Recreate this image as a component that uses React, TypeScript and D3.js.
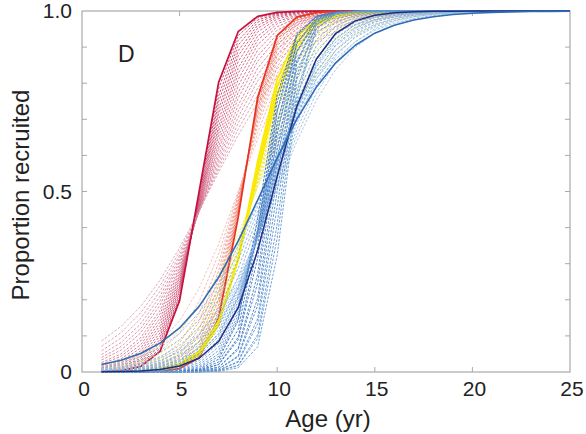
import React from "react";
import * as d3 from "d3";

// ---------- data ----------
const AGES = [1, 2, 3, 4, 5, 6, 7, 8, 9, 10, 11, 12, 13, 14, 15, 16, 17, 18, 19, 20, 21, 22, 23, 24, 25];
const X_TICKS = [0, 5, 10, 15, 20, 25];
const Y_TICKS = [0, 0.5, 1];
const Y_TICK_LABELS = ["0", "0.5", "1.0"];
const Y_MINOR = [0.1, 0.2, 0.3, 0.4, 0.5, 0.6, 0.7, 0.8, 0.9];

// crimson group (age at 50% selection, slope)
const crimsonSolidA50 = 6.0;
const crimsonSolidSlope = 1.4;
const crimsonFanA50 = [6.02, 6.05, 6.07, 6.1, 6.12, 6.15, 6.18, 6.2, 6.23, 6.26, 6.29, 6.32, 6.35, 6.38, 6.41, 6.44, 6.47, 6.5];
const crimsonFanSlope = [1.32, 1.24, 1.17, 1.1, 1.04, 0.98, 0.92, 0.87, 0.82, 0.77, 0.72, 0.68, 0.63, 0.59, 0.55, 0.51, 0.47, 0.43];

// red group
const redSolidA50 = 8.2;
const redSolidSlope = 1.45;
const redFanA50 = [8.18, 8.16, 8.15, 8.13, 8.11, 8.09, 8.07, 8.05, 8.03, 8.0];
const redFanSlope = [1.36, 1.28, 1.2, 1.12, 1.04, 0.96, 0.88, 0.8, 0.7, 0.6];

// yellow group
const yellowSolidA50 = [8.7, 8.75, 8.8];
const yellowSolidSlope = [1.12, 1.06, 1.0];
const yellowFanA50 = [8.82, 8.84, 8.86, 8.88, 8.9, 8.92];
const yellowFanSlope = [0.92, 0.84, 0.76, 0.68, 0.6, 0.52];

// blue group
const blueFanA50 = [9.3, 9.35, 9.4, 9.45, 9.5, 9.55, 9.6, 9.65, 9.7, 9.75, 9.8, 9.85, 9.9, 9.95];
const blueFanSlope = [1.35, 1.25, 1.15, 1.06, 0.98, 0.91, 0.85, 0.8, 0.75, 0.7, 0.66, 0.62, 0.58, 0.54];
const blueOuterFanA50 = [9.25, 9.3, 9.38, 9.45, 9.52, 9.6, 9.68];
const blueOuterFanSlope = [0.5, 0.54, 0.58, 0.63, 0.68, 0.74, 0.8];
const blueSteepA50 = [9.2, 9.3, 9.4, 9.5, 9.6, 9.7, 9.8, 9.9, 10.0, 10.1, 10.2, 10.3, 10.4];
const blueSteepSlope = [1.5, 1.55, 1.6, 1.55, 1.65, 1.6, 1.7, 1.65, 1.75, 1.7, 1.8, 1.75, 1.85];
const blueShallowA50 = 9.2;
const blueShallowSlope = 0.47;
const navyA50 = 9.8;
const navySlope = 0.85;

// ---------- layout ----------
const W = 586;
const H = 434;
const L = 82, R = 570, T = 11, B = 372;
const FONT = "'Liberation Sans', Arial, Helvetica, sans-serif";
const FRAME = "#a9a9a9";

const x = d3.scaleLinear().domain([0, 25]).range([L, R]);
const y = d3.scaleLinear().domain([0, 1]).range([B, T]);

const sel = (a50: number, s: number) => AGES.map((a) => [a, 1 / (1 + Math.exp(-s * (a - a50)))] as [number, number]);
const line = d3
  .line<[number, number]>()
  .x((d) => x(d[0]))
  .y((d) => y(d[1]));

type Curve = { d: string; color: string; w: number; dash?: string };

function fan(a50s: number[], slopes: number[], c0: string, c1: string, w: number, dash: string): Curve[] {
  const interp = d3.interpolateRgb(c0, c1);
  return a50s.map((a, i) => ({
    d: line(sel(a, slopes[i])) as string,
    color: interp(a50s.length > 1 ? i / (a50s.length - 1) : 0),
    w,
    dash,
  }));
}

export default function App() {
  const curves: Curve[] = [
    ...fan(crimsonFanA50, crimsonFanSlope, "#c42a55", "#dc9aae", 0.85, "2.5,1.6"),
    ...fan(redFanA50, redFanSlope, "#ec5e50", "#f4b8ae", 0.85, "2.5,1.6"),
    { d: line(sel(crimsonSolidA50, crimsonSolidSlope)) as string, color: "#c4123e", w: 1.7 },
    ...fan(yellowFanA50, yellowFanSlope, "#e8e020", "#eeee70", 0.9, "2.5,1.6"),
    { d: line(sel(redSolidA50, redSolidSlope)) as string, color: "#e8321e", w: 1.7 },
    ...yellowSolidA50.map((a, i) => ({ d: line(sel(a, yellowSolidSlope[i])) as string, color: "#fbea00", w: 1.8 })),
    ...fan(blueOuterFanA50, blueOuterFanSlope, "#8db6e0", "#6d9fd6", 0.85, "2.5,1.6"),
    ...fan(blueFanA50, blueFanSlope, "#4f86cc", "#9cc2e6", 0.85, "2.5,1.6"),
    ...fan(blueSteepA50, blueSteepSlope, "#3a72bf", "#6a9fd6", 0.95, "2.5,1.4"),
    { d: line(sel(navyA50, navySlope)) as string, color: "#1d2f84", w: 1.5 },
    { d: line(sel(blueShallowA50, blueShallowSlope)) as string, color: "#2e6cb6", w: 1.6 },
  ];

  return (
    <svg width={W} height={H} style={{ position: "absolute", left: 0, top: 0, background: "#fff" }} fontFamily={FONT}>
      <rect x={0} y={0} width={W} height={H} fill="#fff" />
      {/* frame */}
      <rect x={L} y={T} width={R - L} height={B - T} fill="none" stroke={FRAME} strokeWidth={1.2} />
      {/* y ticks */}
      {Y_MINOR.map((v) => (
        <g key={"ym" + v}>
          <line x1={L} x2={L + 5} y1={y(v)} y2={y(v)} stroke={FRAME} />
          <line x1={R} x2={R - 5} y1={y(v)} y2={y(v)} stroke={FRAME} />
        </g>
      ))}
      {X_TICKS.slice(1, -1).map((v) => (
        <g key={"xt" + v}>
          <line x1={x(v)} x2={x(v)} y1={B} y2={B - 5} stroke={FRAME} />
          <line x1={x(v)} x2={x(v)} y1={T} y2={T + 5} stroke={FRAME} />
        </g>
      ))}
      {/* curves */}
      {curves.map((c, i) => (
        <path key={i} d={c.d} fill="none" stroke={c.color} strokeWidth={c.w} strokeDasharray={c.dash} strokeLinejoin="round" />
      ))}
      {/* tick labels */}
      {X_TICKS.map((v) => (
        <text key={"xl" + v} x={x(v) + 2} y={396} textAnchor="middle" fontSize={21} fill="#222">
          {v}
        </text>
      ))}
      {Y_TICKS.map((v, i) => (
        <text key={"yl" + v} x={72} y={y(v) + 7} textAnchor="end" fontSize={21} fill="#222">
          {Y_TICK_LABELS[i]}
        </text>
      ))}
      {/* axis titles */}
      <text x={328} y={427} textAnchor="middle" fontSize={24} fill="#222">
        Age (yr)
      </text>
      <text transform={`translate(29,195) rotate(-90)`} textAnchor="middle" fontSize={24} fill="#222">
        Proportion recruited
      </text>
      <text x={118} y={62} fontSize={23} fill="#222">
        D
      </text>
    </svg>
  );
}
